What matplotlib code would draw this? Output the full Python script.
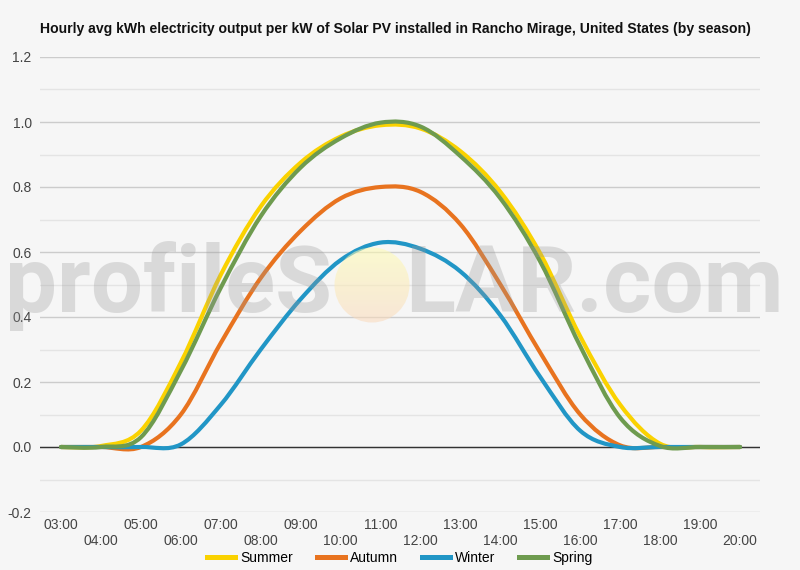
import matplotlib
matplotlib.use('Agg')
import matplotlib.pyplot as plt
from matplotlib.path import Path
from matplotlib.patches import PathPatch, Circle
from matplotlib.lines import Line2D
from matplotlib.colors import LinearSegmentedColormap
import numpy as np

plt.rcParams['font.family'] = ['Liberation Sans', 'DejaVu Sans']

hours = list(range(3, 21))
hour_labels = ['%02d:00' % h for h in hours]

seasons = ['Summer', 'Autumn', 'Winter', 'Spring']
colors = ['#fad200', '#e8731f', '#2196c6', '#6e9b4f']

summer = [0, 0.003, 0.05, 0.26, 0.53, 0.74, 0.875, 0.955, 0.99, 0.98,
          0.91, 0.785, 0.595, 0.34, 0.13, 0.01, 0, 0]
autumn = [0, 0, 0, 0.10, 0.32, 0.52, 0.665, 0.765, 0.80, 0.785,
          0.685, 0.50, 0.29, 0.10, 0.005, 0, 0, 0]
winter = [0, 0, 0, 0.008, 0.13, 0.30, 0.455, 0.575, 0.629, 0.61,
          0.54, 0.405, 0.215, 0.05, 0, 0, 0, 0]
spring = [0, 0, 0.03, 0.235, 0.49, 0.71, 0.86, 0.95, 0.998, 0.986,
          0.895, 0.765, 0.57, 0.31, 0.09, 0.003, 0, 0]

title = ('Hourly avg kWh electricity output per kW of Solar PV installed in '
         'Rancho Mirage, United States (by season)')


def smooth_path(x, y):
    # smooth curve through the points (catmull-rom as bezier segments)
    x = np.asarray(x, float)
    y = np.asarray(y, float)
    n = len(x)
    verts = [(x[0], y[0])]
    codes = [Path.MOVETO]
    for i in range(n - 1):
        p0 = max(i - 1, 0)
        p3 = min(i + 2, n - 1)
        c1 = (x[i] + (x[i + 1] - x[p0]) / 6, y[i] + (y[i + 1] - y[p0]) / 6)
        c2 = (x[i + 1] - (x[p3] - x[i]) / 6, y[i + 1] - (y[p3] - y[i]) / 6)
        verts += [c1, c2, (x[i + 1], y[i + 1])]
        codes += [Path.CURVE4] * 3
    return Path(verts, codes)


bg = '#f6f6f6'
fig = plt.figure(figsize=(8, 5.7), dpi=100, facecolor=bg)
ax = fig.add_axes([40 / 800, 1 - 512 / 570, 720 / 800, 455 / 570])
ax.set_facecolor(bg)

ax.set_xlim(2.474, 20.5)
ax.set_ylim(-0.2, 1.2)

ax.set_yticks(np.round(np.arange(-0.2, 1.21, 0.2), 1))
ax.set_yticklabels(['%.1f' % v for v in np.arange(-0.2, 1.21, 0.2)])
ax.set_yticks(np.round(np.arange(-0.1, 1.2, 0.2), 1), minor=True)
ax.grid(True, which='major', axis='y', color='#cccccc', lw=1)
ax.grid(True, which='minor', axis='y', color='#e4e4e4', lw=1)
ax.axhline(0, color='#333333', lw=1, zorder=2)

ax.set_xticks(hours)
ax.set_xticklabels([lab if i % 2 == 0 else '\n' + lab
                    for i, lab in enumerate(hour_labels)])
ax.tick_params(axis='both', which='both', length=0, labelsize=10,
               labelcolor='#444444')
ax.tick_params(axis='x', pad=4.5)
ax.tick_params(axis='y', pad=6)
for s in ax.spines.values():
    s.set_visible(False)

for name, vals, c in zip(seasons, [summer, autumn, winter, spring], colors):
    patch = PathPatch(smooth_path(hours, vals), fill=False, edgecolor=c,
                      lw=3, capstyle='round', joinstyle='round', zorder=3)
    ax.add_patch(patch)

handles = [Line2D([], [], color=c, lw=3.6) for c in colors]
fig.legend(handles, seasons, loc='center', bbox_to_anchor=(0.5, 1 - 558 / 570),
           ncol=4, frameon=False, fontsize=10, handlelength=2.0,
           handletextpad=0.4, columnspacing=1.7)

fig.text(40 / 800, 1 - 29 / 570, title, fontsize=10.05, fontweight='bold',
         va='center', ha='left', color='#111111')

# watermark overlay in pixel coordinates
wm = fig.add_axes([0, 0, 1, 1], zorder=10)
wm.set_xlim(0, 800)
wm.set_ylim(570, 0)
wm.axis('off')
wm.patch.set_alpha(0)

wm_font = dict(family=['Roboto', 'DejaVu Sans'], fontweight='bold',
               color='#999999', alpha=0.3, va='baseline', ha='left')
t1 = wm.text(5, 312, 'profileS', fontsize=68, **wm_font)
t2 = wm.text(405, 312, 'LAR.com', fontsize=68, **wm_font)
renderer = fig.canvas.get_renderer()
w1 = t1.get_window_extent(renderer).width
size = 68 * 327 / w1
t1.set_fontsize(size)
t2.set_fontsize(size)

sun_cmap = LinearSegmentedColormap.from_list('sun', ['#fffdb0', '#fad9bb'])
grad = np.linspace(0, 1, 100).reshape(-1, 1)
sun = wm.imshow(grad, cmap=sun_cmap, extent=(334, 410, 323, 247),
                alpha=0.55, aspect='auto', zorder=11)
sun.set_clip_path(Circle((372, 285), 37.5, transform=wm.transData))
wm.set_xlim(0, 800)
wm.set_ylim(570, 0)

fig.savefig('out.png', dpi=100, facecolor=bg)
